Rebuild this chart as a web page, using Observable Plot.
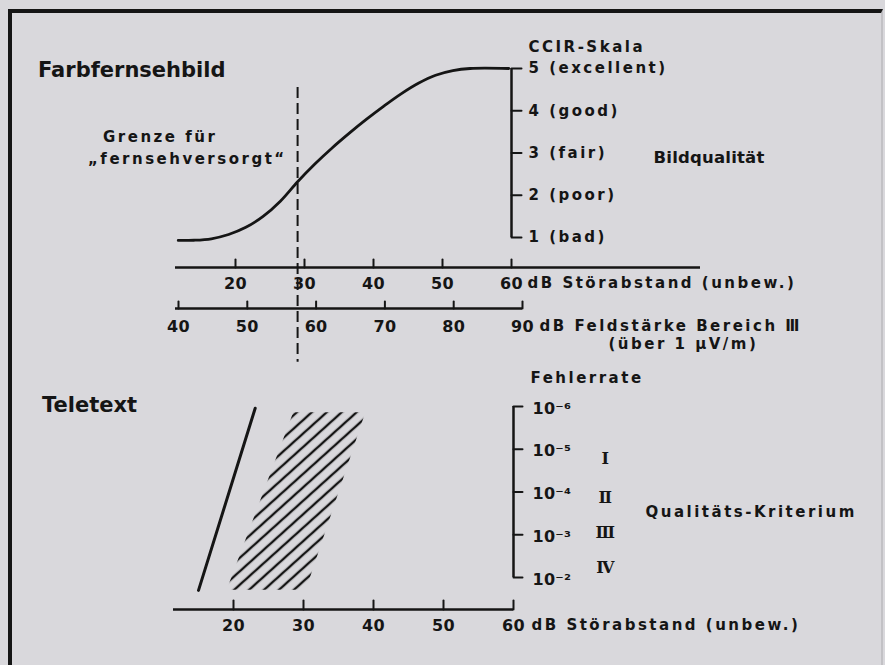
<!DOCTYPE html>
<html><head><meta charset="utf-8">
<script src="https://cdn.jsdelivr.net/npm/d3@7"></script>
<script src="https://cdn.jsdelivr.net/npm/@observablehq/plot@0.6"></script>
<style>
html,body{margin:0;padding:0;background:#d9d8dc;}
#wrap{position:relative;width:885px;height:665px;overflow:hidden;background:#d9d8dc;font-family:"DejaVu Sans",sans-serif;color:#151515;}
#frame{position:absolute;left:8px;top:9px;width:875px;height:670px;border-left:4px solid #151515;border-top:4px solid #151515;border-right:2px solid #c2c1c5;box-sizing:border-box;}
svg text{letter-spacing:2.5px;}
svg g[font-size="16"] text{letter-spacing:0.3px;}
svg g[font-size="16.5"] text{letter-spacing:0.2px;}
.lbl{position:absolute;white-space:nowrap;font-weight:bold;line-height:1;}
.big{font-size:21px;}
.small{font-size:15px;letter-spacing:2.5px;}
</style></head><body>
<div id="wrap">
  <div id="frame"></div>
  <div class="lbl big" style="left:38px;top:60px;">Farbfernsehbild</div>
  <div class="lbl small" style="left:103px;top:130px;">Grenze für</div>
  <div class="lbl small" style="left:88px;top:152px;">„fernsehversorgt“</div>
  <div class="lbl big" style="left:42px;top:395px;">Teletext</div>
</div>
<script>
// ---------- data ----------
const snTicks = [20, 30, 40, 50, 60];
const fieldTicks = [40, 50, 60, 70, 80, 90];
const gradeTicks = [1, 2, 3, 4, 5];
const gradeLabels = ["1 (bad)", "2 (poor)", "3 (fair)", "4 (good)", "5 (excellent)"];
const qualitySN    = [11.7, 14, 16.5, 19, 21.5, 24, 26.5, 29, 31.5, 34, 36.5, 39, 41.5, 44, 46.5, 49, 51.5, 54, 59.6];
const qualityGrade = [0.93, 0.935, 0.97, 1.07, 1.24, 1.5, 1.86, 2.32, 2.74, 3.12, 3.47, 3.8, 4.11, 4.4, 4.65, 4.84, 4.95, 5.0, 5.0];
const limitSN = 29;
const limitGradeTop = 4.55, limitGradeBottom = -1.95;
const snAxisTitle = "dB Störabstand (unbew.)";
const fieldAxisTitle = "dB Feldstärke Bereich Ⅲ";
const fieldAxisSub = "(über 1 µV/m)";
const gradeScaleTitle = "CCIR-Skala";
const gradeAxisTitle = "Bildqualität";
const rateTicks = [1e-6, 1e-5, 1e-4, 1e-3, 1e-2];
const rateLabels = ["10⁻⁶", "10⁻⁵", "10⁻⁴", "10⁻³", "10⁻²"];
const rateTitle = "Fehlerrate";
const criteriaTitle = "Qualitäts-Kriterium";
const criteria = ["Ⅰ", "Ⅱ", "Ⅲ", "Ⅳ"];
const criteriaRate = [1.66e-5, 1.35e-4, 8.9e-4, 5.9e-3];
const teletextSN = [15.0, 23.1];
const teletextRate = [2.0e-2, 1.1e-6];
const bandRate = [2.0e-2, 1.4e-6];
const bandLo = [19.1, 28.6];
const bandHi = [30.4, 38.9];

(function () {
// ---------- helpers ----------
const ink = "#151515";
const font = {fontFamily: "DejaVu Sans", fontWeight: "bold", fontSize: 15, fill: ink};
const tickFont = {...font, fontSize: 16};
const tick = {draw(ctx, l) { ctx.moveTo(0, 0); ctx.lineTo(0, -l); }};
const layer = {background: "transparent", overflow: "visible", position: "absolute", left: "0px", top: "0px", color: ink};
const wrap = document.getElementById("wrap");

const quality = qualitySN.map((s, i) => ({sn: s, grade: qualityGrade[i]}));
const teletext = teletextSN.map((s, i) => ({sn: s, rate: teletextRate[i]}));
const band = bandRate.map((r, i) => ({rate: r, lo: bandLo[i], hi: bandHi[i]}));
const lastSN = snTicks[snTicks.length - 1];
const lastField = fieldTicks[fieldTicks.length - 1];

// ---------- top: Farbfernsehbild ----------
const topPlot = Plot.plot({
  width: 885, height: 665,
  marginLeft: 175, marginRight: 185, marginTop: 169, marginBottom: 300,
  x: {domain: [20, 60], range: [235, 511], axis: null},
  y: {domain: [1, 5], range: [237, 68], axis: null},
  style: layer,
  marks: [
    Plot.line(quality, {x: "sn", y: "grade", curve: "catmull-rom", stroke: ink, strokeWidth: 2.8}),
    Plot.ruleX([limitSN], {y1: limitGradeTop, y2: limitGradeBottom, stroke: ink, strokeWidth: 2, strokeDasharray: "11,5"}),
    Plot.ruleY([0], {y: null, stroke: ink, strokeWidth: 2.5}),
    Plot.vector(snTicks, {x: d => d, length: 8, shape: tick, anchor: "start", stroke: ink, strokeWidth: 2}),
    Plot.text(snTicks, {x: d => d, text: d => `${d}`, dy: 16, ...tickFont}),
    Plot.text([snAxisTitle], {x: () => lastSN, text: d => d, dx: 16, dy: 16, textAnchor: "start", ...font}),
    Plot.ruleX([lastSN], {y1: gradeTicks[0], y2: gradeTicks[gradeTicks.length - 1], stroke: ink, strokeWidth: 2.5}),
    Plot.vector(gradeTicks, {x: () => lastSN, y: d => d, rotate: 90, length: 10, shape: tick, anchor: "start", stroke: ink, strokeWidth: 2}),
    Plot.text(gradeTicks, {x: () => lastSN, y: d => d, text: (d, i) => gradeLabels[i], dx: 17, textAnchor: "start", ...font}),
    Plot.text([gradeScaleTitle], {x: () => lastSN, y: () => gradeTicks[4], text: d => d, dx: 17, dy: -21, textAnchor: "start", ...font}),
    Plot.text([gradeAxisTitle], {x: () => lastSN, y: () => gradeTicks[2], text: d => d, dx: 142, dy: 5, textAnchor: "start", ...font, fontSize: 16.5})
  ]
});
wrap.appendChild(topPlot);

// ---------- middle: Feldstärke axis ----------
const midPlot = Plot.plot({
  width: 885, height: 665,
  marginLeft: 175, marginRight: 363, marginTop: 258, marginBottom: 307,
  x: {domain: [40, 90], range: [178, 522], axis: null},
  style: layer,
  marks: [
    Plot.ruleY([0], {y: null, stroke: ink, strokeWidth: 2.5}),
    Plot.vector(fieldTicks, {x: d => d, length: 7, shape: tick, anchor: "start", stroke: ink, strokeWidth: 2}),
    Plot.text(fieldTicks, {x: d => d, text: d => `${d}`, dy: 18, ...tickFont}),
    Plot.text([fieldAxisTitle], {x: () => lastField, text: d => d, dx: 17, dy: 18, textAnchor: "start", ...font}),
    Plot.text([fieldAxisSub], {x: () => lastField, text: d => d, dx: 86, dy: 36, textAnchor: "start", ...font})
  ]
});
wrap.appendChild(midPlot);

// ---------- bottom: Teletext ----------
const hatchDefs = () => {
  const ns = "http://www.w3.org/2000/svg";
  const defs = document.createElementNS(ns, "defs");
  const pat = document.createElementNS(ns, "pattern");
  pat.setAttribute("id", "hatch");
  pat.setAttribute("patternUnits", "userSpaceOnUse");
  pat.setAttribute("width", "10");
  pat.setAttribute("height", "10");
  pat.setAttribute("patternTransform", "rotate(-42)");
  const ln = document.createElementNS(ns, "line");
  ln.setAttribute("x1", "0"); ln.setAttribute("y1", "5");
  ln.setAttribute("x2", "10"); ln.setAttribute("y2", "5");
  ln.setAttribute("stroke", ink); ln.setAttribute("stroke-width", "2.4");
  pat.appendChild(ln);
  defs.appendChild(pat);
  return defs;
};

const botPlot = Plot.plot({
  width: 885, height: 665,
  marginLeft: 173, marginRight: 372, marginTop: 559, marginBottom: 6,
  x: {domain: [20, 60], range: [233, 513], axis: null},
  y: {type: "log", domain: [1e-6, 1e-2], range: [406, 577], axis: null},
  style: layer,
  marks: [
    hatchDefs,
    Plot.areaX(band, {y: "rate", x1: "lo", x2: "hi", fill: "url(#hatch)", curve: "linear"}),
    Plot.line(teletext, {x: "sn", y: "rate", stroke: ink, strokeWidth: 3}),
    Plot.ruleY([0], {y: null, stroke: ink, strokeWidth: 2.5}),
    Plot.vector(snTicks, {x: d => d, length: 9, shape: tick, anchor: "start", stroke: ink, strokeWidth: 2}),
    Plot.text(snTicks, {x: d => d, text: d => `${d}`, dy: 16, ...tickFont}),
    Plot.text([snAxisTitle], {x: () => lastSN, text: d => d, dx: 18, dy: 16, textAnchor: "start", ...font}),
    Plot.ruleX([lastSN], {y1: rateTicks[0], y2: rateTicks[rateTicks.length - 1], stroke: ink, strokeWidth: 2.5}),
    Plot.vector(rateTicks, {x: () => lastSN, y: d => d, rotate: 90, length: 9, shape: tick, anchor: "start", stroke: ink, strokeWidth: 2}),
    Plot.text(rateTicks, {x: () => lastSN, y: d => d, text: (d, i) => rateLabels[i], dx: 19, dy: 2, textAnchor: "start", ...tickFont}),
    Plot.text(criteriaRate, {x: () => lastSN, y: d => d, text: (d, i) => criteria[i], dx: 92, ...font, fontFamily: "DejaVu Serif", fontSize: 16}),
    Plot.text([rateTitle], {x: () => lastSN, y: () => rateTicks[0], text: d => d, dx: 17, dy: -28, textAnchor: "start", ...font}),
    Plot.text([criteriaTitle], {x: () => lastSN, y: () => Math.sqrt(criteriaRate[1] * criteriaRate[2]), text: d => d, dx: 132, dy: -3, textAnchor: "start", ...font})
  ]
});
wrap.appendChild(botPlot);
})();
</script>
</body></html>
